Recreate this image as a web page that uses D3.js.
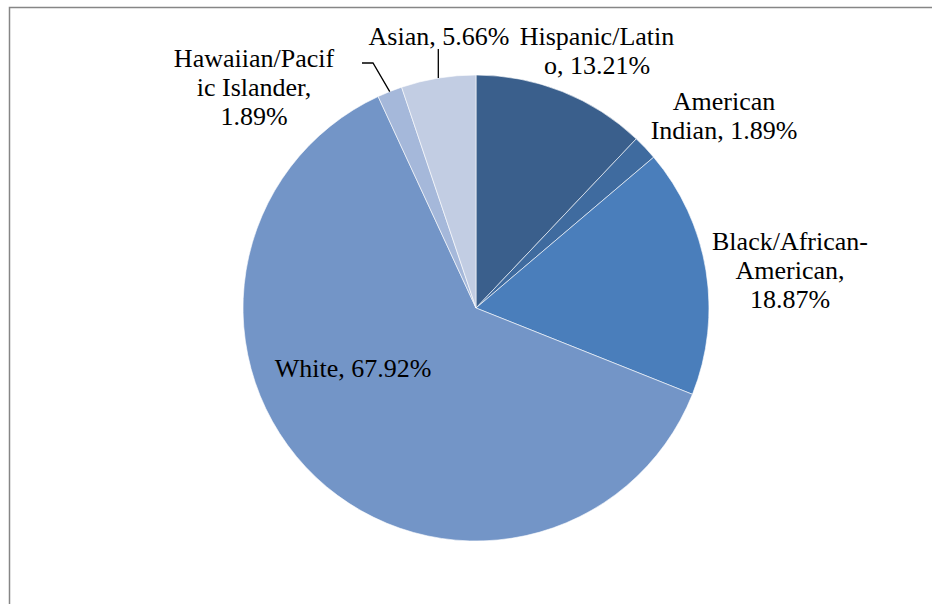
<!DOCTYPE html>
<html>
<head>
<meta charset="utf-8">
<script src="https://cdn.jsdelivr.net/npm/d3@7"></script>
<style>
  html, body { margin: 0; padding: 0; background: #fff; }
  svg { display: block; }
</style>
</head>
<body>
<svg id="chart" width="932" height="604"></svg>
<script>
// ---- data ----
const categories = ["Hispanic/Latino", "American Indian", "Black/African-American", "White", "Hawaiian/Pacific Islander", "Asian"];
const values = [13.21, 1.89, 18.87, 67.92, 1.89, 5.66];
const labelLines = [
  ["Hispanic/Latin", "o, 13.21%"],
  ["American", "Indian, 1.89%"],
  ["Black/African-", "American,", "18.87%"],
  ["White, 67.92%"],
  ["Hawaiian/Pacif", "ic Islander,", "1.89%"],
  ["Asian, 5.66%"]
];

// ---- styles / layout ----
const colors = ["#3A5F8C", "#3F6B9F", "#4A7EBB", "#7395C7", "#A5B8DA", "#C2CDE3"];
const fontFamily = "'Liberation Serif', Tinos, 'Times New Roman', Times, 'DejaVu Serif', serif";
const cx = 476, cy = 308, radius = 233;
const lineH = 29;
// label anchor (center x, first baseline y)
const labelPos = [
  [597, 45], [724, 110], [790, 250], [353, 377], [254, 67], [439, 45]
];

const svg = d3.select("#chart");

// frame
svg.append("path")
  .attr("d", "M9.5,604 L9.5,7.5 L932,7.5")
  .attr("fill", "none").attr("stroke", "#868686").attr("stroke-width", 1.5);

const data = categories.map((c, i) => ({ cat: c, value: values[i], i }));
const pie = d3.pie().sort(null).value(d => d.value).startAngle(0).endAngle(2 * Math.PI);
const arcs = pie(data);
const arc = d3.arc().innerRadius(0).outerRadius(radius);

const g = svg.append("g").attr("transform", `translate(${cx},${cy})`);
g.selectAll("path.slice").data(arcs).join("path")
  .attr("class", "slice")
  .attr("d", arc)
  .attr("fill", d => colors[d.data.i])
  .attr("stroke", "#fff").attr("stroke-width", 0.6);

// leader lines for small top-left slices
function edgePoint(d) {
  const a = (d.startAngle + d.endAngle) / 2;
  return [cx + radius * Math.sin(a), cy - radius * Math.cos(a)];
}
const hawaii = arcs[4], asian = arcs[5];
const hp = edgePoint(hawaii);
svg.append("polyline")
  .attr("points", `${hp[0]},${hp[1]} 373,63 362,63`)
  .attr("fill", "none").attr("stroke", "#000").attr("stroke-width", 1.3);
const ap = edgePoint(asian);
svg.append("line")
  .attr("x1", ap[0]).attr("y1", ap[1]).attr("x2", ap[0]).attr("y2", 49)
  .attr("stroke", "#000").attr("stroke-width", 1.3);

// labels
arcs.forEach((d, i) => {
  const [x, y] = labelPos[i];
  const t = svg.append("text")
    .attr("text-anchor", "middle")
    .attr("font-family", fontFamily)
    .attr("font-size", 26)
    .attr("fill", "#000");
  labelLines[i].forEach((ln, k) => {
    t.append("tspan").attr("x", x).attr("y", y + k * lineH).text(ln);
  });
});
</script>
</body>
</html>
